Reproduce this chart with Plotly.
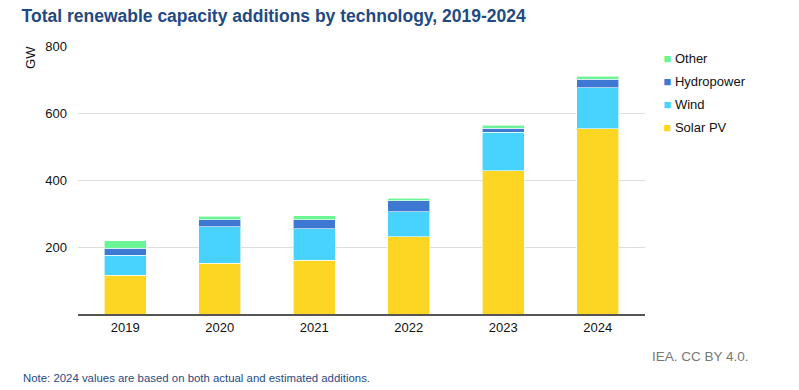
import plotly.graph_objects as go

years = ["2019", "2020", "2021", "2022", "2023", "2024"]
solar_pv = [116, 151, 161, 231, 427, 553]
wind = [60, 109, 94, 74, 116, 122]
hydropower = [20, 21, 27, 33, 12, 26]
other = [22, 11, 12, 8, 9, 9]

series = [
    ("Solar PV", solar_pv, "#FDD523"),
    ("Wind", wind, "#48D3FF"),
    ("Hydropower", hydropower, "#3D78D3"),
    ("Other", other, "#6BF594"),
]

FONT = "Arial, Liberation Sans, sans-serif"

fig = go.Figure()
for name, vals, color in series:
    fig.add_trace(go.Bar(
        x=years, y=vals, name=name, marker_color=color,
        marker_line=dict(color="rgba(255,255,255,0.6)", width=1),
        showlegend=False, hovertemplate="%{x}: %{y} GW<extra>" + name + "</extra>",
    ))
# legend entries (top to bottom: Other, Hydropower, Wind, Solar PV)
for name, vals, color in reversed(series):
    fig.add_trace(go.Scatter(
        x=[None], y=[None], mode="markers",
        name=f"<span style='color:{color};font-size:13px'>■</span> {name}",
        marker=dict(symbol="square", size=1, color="rgba(0,0,0,0)",
                    line=dict(width=0, color="rgba(0,0,0,0)")),
        legendgroup=name, showlegend=True, hoverinfo="skip",
    ))

fig.update_layout(
    width=799, height=390,
    barmode="stack", bargap=0.556,
    paper_bgcolor="white", plot_bgcolor="white",
    margin=dict(l=78, r=154, t=46, b=76),
    font=dict(family=FONT, size=13, color="#111111"),
    title=dict(
        text="<b>Total renewable capacity additions by technology, 2019-2024</b>",
        x=0.027, xanchor="left", y=0.96, yanchor="middle",
        font=dict(family=FONT, size=17.5, color="#1F4A84"),
    ),
    legend=dict(
        x=0.962, xanchor="left", y=1.01, yanchor="top",
        traceorder="grouped", tracegroupgap=3,
        font=dict(family=FONT, size=13, color="#111111"),
        itemwidth=30, bgcolor="rgba(0,0,0,0)",
    ),
    xaxis=dict(
        type="category", range=[-0.5, 5.5],
        showline=True, linecolor="#555555", linewidth=2,
        ticks="", tickfont=dict(size=13, color="#111111"),
        showgrid=False,
    ),
    yaxis=dict(
        range=[0, 800], tickvals=[0, 200, 400, 600, 800],
        ticktext=["", "200", "400", "600", "800"],
        showgrid=True, gridcolor="#DDDDDD", gridwidth=1,
        zeroline=False, ticks="", ticklabelstandoff=10,
        tickfont=dict(size=13, color="#111111"),
    ),
    annotations=[
        dict(text="GW", textangle=-90, xref="paper", yref="paper",
             x=-0.083, y=0.959, xanchor="center", yanchor="middle", showarrow=False,
             font=dict(size=13, color="#111111")),
        dict(text="IEA. CC BY 4.0.", xref="paper", yref="paper",
             x=1.187, y=-0.157, xanchor="right", yanchor="middle", showarrow=False,
             font=dict(size=13.5, color="#777777")),
        dict(text="Note: 2024 values are based on both actual and estimated additions.",
             xref="paper", yref="paper", x=-0.1, y=-0.239, xanchor="left",
             yanchor="middle", showarrow=False,
             font=dict(size=11.4, color="#1F4A84")),
    ],
)

fig.write_html("out.html", config={"displayModeBar": False},
               post_script="document.body.style.margin='0';")
